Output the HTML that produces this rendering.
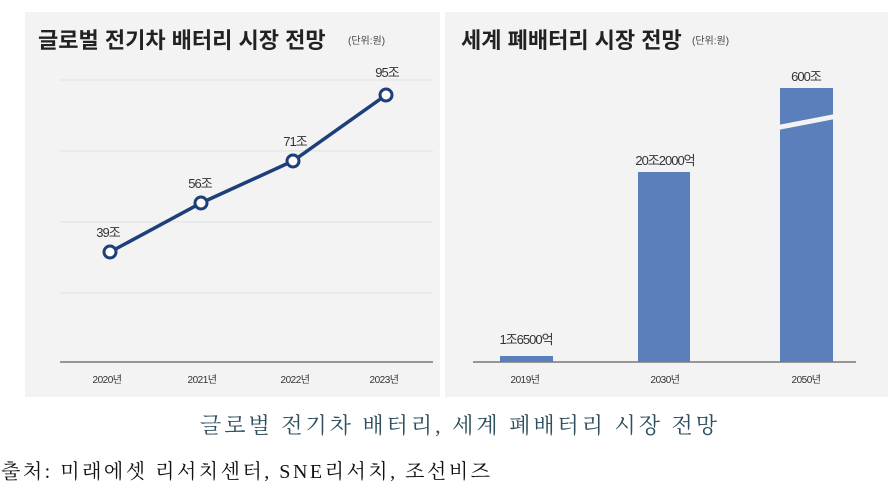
<!DOCTYPE html>
<html><head><meta charset="utf-8"><style>
html,body{margin:0;padding:0;background:#fff;width:891px;height:491px;overflow:hidden}
svg{display:block}
</style></head><body>
<svg width="891" height="491" viewBox="0 0 891 491" xmlns="http://www.w3.org/2000/svg" font-family="'Liberation Sans','Noto Sans CJK KR',sans-serif">
<rect x="25" y="12" width="415" height="385" fill="#f3f3f3"/>
<rect x="445" y="12" width="443" height="385" fill="#f3f3f3"/>
<text x="38" y="48" font-size="22" font-weight="bold" fill="#222">글로벌 전기차 배터리 시장 전망</text>
<text x="348" y="44" font-size="10" fill="#444">(단위:원)</text>
<g stroke="#e2e2e2" stroke-width="1">
<line x1="60" y1="80" x2="433" y2="80"/><line x1="60" y1="151" x2="433" y2="151"/>
<line x1="60" y1="222" x2="433" y2="222"/><line x1="60" y1="293" x2="433" y2="293"/>
</g>
<line x1="60" y1="362" x2="433" y2="362" stroke="#777" stroke-width="1.5"/>
<polyline points="110,252 201,203 293,161 386,95" fill="none" stroke="#1e3f7a" stroke-width="3.5"/>
<g fill="#fff" stroke="#1e3f7a" stroke-width="3">
<circle cx="110" cy="252" r="6"/><circle cx="201" cy="203" r="6"/><circle cx="293" cy="161" r="6"/><circle cx="386" cy="95" r="6"/>
</g>
<g font-size="13" fill="#333" text-anchor="middle" letter-spacing="-1">
<text x="108" y="237">39조</text><text x="200" y="188">56조</text><text x="295" y="146">71조</text><text x="387" y="77">95조</text>
</g>
<g font-size="10" fill="#333" text-anchor="middle" letter-spacing="-0.5">
<text x="107" y="383">2020년</text><text x="202" y="383">2021년</text><text x="295" y="383">2022년</text><text x="384" y="383">2023년</text>
</g>
<text x="461" y="48" font-size="22" font-weight="bold" fill="#222">세계 폐배터리 시장 전망</text>
<text x="692" y="44" font-size="10" fill="#444">(단위:원)</text>
<line x1="473" y1="362" x2="856" y2="362" stroke="#777" stroke-width="1.5"/>
<g fill="#5a7fba">
<rect x="500" y="356" width="53" height="6"/>
<rect x="638" y="172" width="52" height="190"/>
<rect x="780" y="88" width="53" height="274"/>
</g>
<polygon points="778,125 835,114 835,119 778,130" fill="#f3f3f3"/>
<g font-size="13" fill="#333" text-anchor="middle" letter-spacing="-1">
<text x="526" y="344">1조6500억</text><text x="665" y="165">20조2000억</text><text x="806" y="81">600조</text>
</g>
<g font-size="10" fill="#333" text-anchor="middle" letter-spacing="-0.5">
<text x="525" y="383">2019년</text><text x="665" y="383">2030년</text><text x="806" y="383">2050년</text>
</g>
<text x="200" y="433" font-size="22" fill="#2f4f5f" textLength="517" lengthAdjust="spacing" font-family="'Liberation Serif','Noto Serif CJK SC',serif">글로벌 전기차 배터리, 세계 폐배터리 시장 전망</text>
<text x="1" y="478" font-size="20" fill="#111" textLength="489" lengthAdjust="spacing" font-family="'Liberation Serif','Noto Serif CJK SC',serif">출처: 미래에셋 리서치센터, SNE리서치, 조선비즈</text>
</svg>
</body></html>
